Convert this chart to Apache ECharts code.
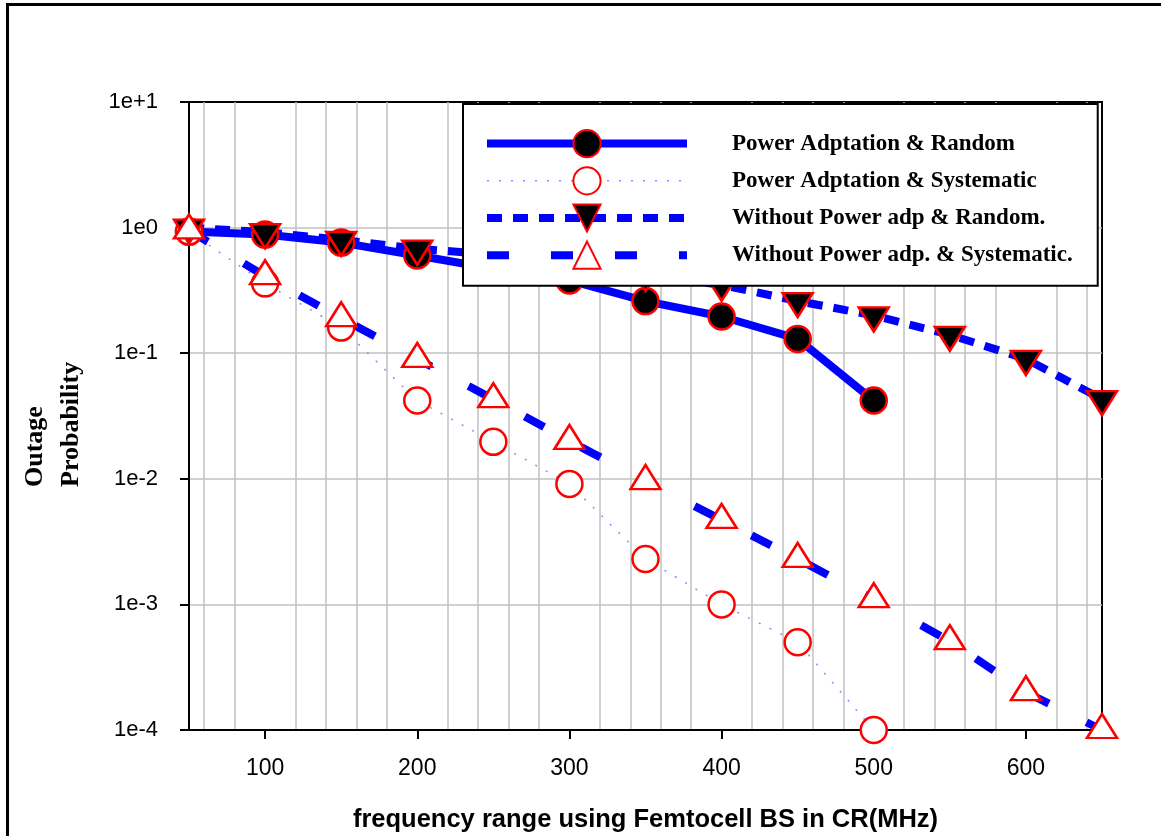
<!DOCTYPE html>
<html><head><meta charset="utf-8">
<script src="https://cdn.jsdelivr.net/npm/echarts@6/dist/echarts.min.js"></script>
<style>html,body{margin:0;padding:0;background:#fff}#c{width:1161px;height:836px}</style>
</head><body><div id="c"></div>
<script>
const seriesNames = ['Power Adptation & Random', 'Power Adptation & Systematic', 'Without Power adp & Random.', 'Without Power adp. & Systematic.'];
const xShort = [50, 100, 150, 200, 250, 300, 350, 400, 450, 500];
const xLong = [50, 100, 150, 200, 250, 300, 350, 400, 450, 500, 550, 600, 650];
const paRandom = [0.93, 0.88, 0.76, 0.60, 0.47, 0.38, 0.26, 0.196, 0.13, 0.042];
const paSystematic = [0.93, 0.36, 0.16, 0.042, 0.0197, 0.0091, 0.0023, 0.001, 0.0005, 0.0001];
const woRandom = [1.0, 0.92, 0.80, 0.68, 0.61, 0.50, 0.42, 0.35, 0.26, 0.20, 0.14, 0.09, 0.043];
const woSystematic = [0.95, 0.41, 0.19, 0.09, 0.043, 0.02, 0.0096, 0.0047, 0.0023, 0.0011, 0.00051, 0.0002, 0.0001];
const xTickValues = [100, 200, 300, 400, 500, 600];
const xGridValues = [60, 80, 120, 140, 160, 180, 220, 240, 260, 280, 320, 340, 360, 380, 420, 440, 460, 480, 520, 540, 560, 580, 620, 640];
const yTickLabels = ['1e-4', '1e-3', '1e-2', '1e-1', '1e0', '1e+1'];
const xTitle = 'frequency range using Femtocell BS in CR(MHz)';
const yTitle = 'Outage\nProbability';

function pairs(xs, ys) { return xs.map((x, i) => [x, ys[i]]); }

const chart = echarts.init(document.getElementById('c'), null, { renderer: 'canvas' });
const blue = '#0000ff', red = '#ff0000';
chart.setOption({
  animation: false,
  backgroundColor: '#fff',
  grid: { left: 189, top: 102, right: 59, bottom: 106, show: true, borderColor: '#000', borderWidth: 2, backgroundColor: 'transparent', outerBoundsMode: 'none' },
  graphic: [
    { type: 'rect', shape: { x: 7.5, y: 4.5, width: 1200, height: 900 }, style: { fill: 'none', stroke: '#000', lineWidth: 3 }, silent: true },
    { type: 'text', x: 53, y: 487, rotation: Math.PI / 2, style: { text: yTitle, fontFamily: 'Liberation Serif', fontWeight: 'bold', fontSize: 26, lineHeight: 36, fill: '#000', align: 'left', verticalAlign: 'middle' } }
  ],
  legend: {
    orient: 'vertical', left: 463, top: 104, padding: [25, 25, 16, 20],
    itemWidth: 200, itemHeight: 34, itemGap: 8,
    backgroundColor: '#fff', borderColor: '#000', borderWidth: 2, borderRadius: 0,
    textStyle: { fontFamily: 'Liberation Serif', fontWeight: 'bold', fontSize: 23, color: '#000', padding: [0, 0, 0, 40] },
    lineStyle: { width: 'inherit' },
    data: seriesNames
  },
  xAxis: [{
    type: 'value', min: 50, max: 650,
    axisLine: { show: true, onZero: false, lineStyle: { color: '#000', width: 2 } },
    axisTick: { show: true, customValues: xTickValues, length: 9, lineStyle: { color: '#000', width: 2 } },
    axisLabel: { customValues: xTickValues, fontFamily: 'Liberation Sans', fontSize: 23, color: '#000', margin: 27 },
    splitLine: { show: false },
    name: xTitle, nameLocation: 'middle', nameGap: 77,
    nameTextStyle: { fontFamily: 'Liberation Sans', fontWeight: 'bold', fontSize: 25.5, color: '#000' }
  }, {
    type: 'value', min: 50, max: 650, position: 'bottom',
    axisLine: { show: false }, axisLabel: { show: false },
    axisTick: { show: false, customValues: xGridValues },
    splitLine: { show: true, lineStyle: { color: '#c0c0c0', width: 1.5 } }
  }],
  yAxis: {
    type: 'log', logBase: 10, min: 0.0001, max: 10, interval: 1,
    axisLine: { show: true, lineStyle: { color: '#000', width: 2 } },
    axisTick: { show: true, length: 9, lineStyle: { color: '#000', width: 2 } },
    axisLabel: { fontFamily: 'Liberation Sans', fontSize: 22, color: '#000', margin: 31,
      formatter: v => yTickLabels[Math.round(Math.log10(v)) + 4] },
    splitLine: { show: true, showMinLine: false, showMaxLine: false, lineStyle: { color: '#c0c0c0', width: 1.5 } },
    minorTick: { show: false }, minorSplitLine: { show: false }
  },
  series: [{
    name: seriesNames[0], type: 'line', data: pairs(xShort, paRandom), clip: false,
    symbol: 'circle', symbolSize: 26,
    lineStyle: { color: blue, width: 8, type: 'solid' },
    itemStyle: { color: '#000', borderColor: red, borderWidth: 2.5 }
  }, {
    name: seriesNames[1], type: 'line', data: pairs(xShort, paSystematic), clip: false,
    symbol: 'circle', symbolSize: 26,
    lineStyle: { color: '#8a8aff', width: 1.5, type: [2, 10] },
    itemStyle: { color: '#fff', borderColor: red, borderWidth: 2.5 }
  }, {
    name: seriesNames[2], type: 'line', data: pairs(xLong, woRandom), clip: false,
    symbol: 'triangle', symbolRotate: 180, symbolSize: [30, 24], symbolOffset: [0, 4],
    lineStyle: { color: blue, width: 8, type: [15, 11] },
    itemStyle: { color: '#000', borderColor: red, borderWidth: 2.5 }
  }, {
    name: seriesNames[3], type: 'line', data: pairs(xLong, woSystematic), clip: false,
    symbol: 'triangle', symbolSize: [30, 24], symbolOffset: [0, -4],
    lineStyle: { color: blue, width: 8, type: [22, 42] },
    itemStyle: { color: '#fff', borderColor: red, borderWidth: 2.5 }
  }]
});
</script></body></html>
